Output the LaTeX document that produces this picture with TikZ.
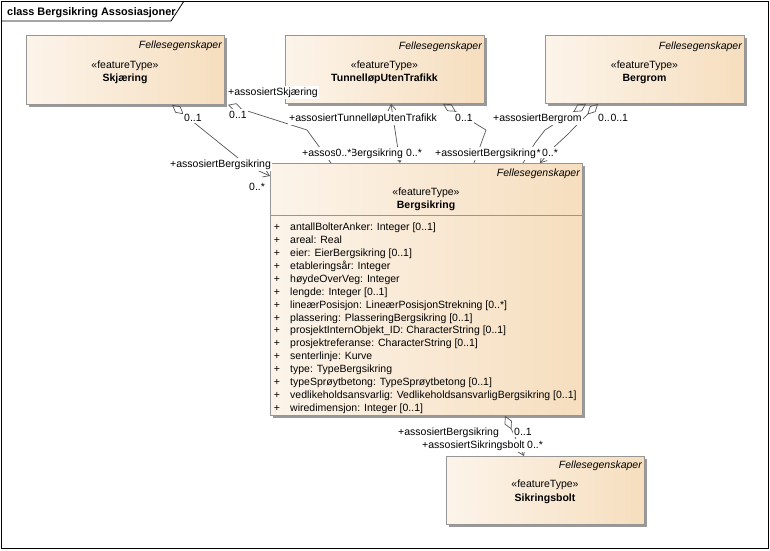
\documentclass[tikz,border=0pt]{standalone}
\usepackage{fontspec}
\setmainfont{Liberation Sans}
\usetikzlibrary{arrows.meta,shadows}
\definecolor{boxL}{RGB}{252,244,234}
\definecolor{boxR}{RGB}{246,222,190}
\definecolor{boxB}{RGB}{150,150,150}
\definecolor{lineC}{RGB}{85,85,85}
\begin{document}
\begin{tikzpicture}[x=1pt,y=-1pt,
  txt/.style={font=\fontsize{10.5}{12}\selectfont, inner sep=0pt},
  ital/.style={font=\fontsize{10.5}{12}\selectfont\itshape, inner sep=0pt, anchor=base east},
  stereo/.style={font=\fontsize{10.5}{12}\selectfont, inner sep=0pt, anchor=base},
  bld/.style={font=\fontsize{10.5}{12}\selectfont\bfseries, inner sep=0pt, anchor=base},
  cls/.style={draw=boxB, line width=0.8pt, left color=boxL, right color=boxR,
    anchor=north west, inner sep=0pt,
    drop shadow={shadow xshift=3pt, shadow yshift=-3pt, fill=black!40, opacity=1}},
  lbl/.style={font=\fontsize{10.5}{12}\selectfont, fill=white, inner xsep=1pt, inner ysep=1.5pt, anchor=base west},
  assoc/.style={draw=lineC, line width=0.7pt},
  dia/.tip={Diamond[open,length=15pt,width=8pt]},
  barb/.tip={Straight Barb[length=6pt,width=8pt]}
]
\useasboundingbox (0,0) rectangle (770,550);
% frame
\draw[black, line width=0.8pt] (1,1) rectangle (768,548);
\draw[black, line width=0.8pt] (1,21) -- (171,21) -- (184,1);
\node[txt, font=\fontsize{10.9}{12}\selectfont\bfseries, anchor=base west] (title) at (7,15) {class Bergsikring Assosiasjoner};

% boxes
\node[cls, minimum width=198pt, minimum height=69pt] (skj) at (26,35) {};
\node[cls, minimum width=199pt, minimum height=68pt] (tun) at (285,35) {};
\node[cls, minimum width=199pt, minimum height=68pt] (berg) at (545,35) {};
\node[cls, minimum width=312pt, minimum height=252pt] (bs) at (270,163) {};
\node[cls, minimum width=198pt, minimum height=68pt] (sik) at (446,456) {};
\draw[boxB, line width=0.8pt] (bs.west |- 0,215) -- (bs.east |- 0,215);

% box texts
\node[ital] (skjF) at (222,48) {Fellesegenskaper};
\node[stereo] (skjS) at (125,68) {«featureType»};
\node[bld] (skjN) at (125,81) {Skjæring};
\node[ital] (tunF) at (482,49) {Fellesegenskaper};
\node[stereo] (tunS) at (384.5,68) {«featureType»};
\node[bld] (tunN) at (384.5,81) {TunnelløpUtenTrafikk};
\node[ital] (bergF) at (742,49) {Fellesegenskaper};
\node[stereo] (bergS) at (644.5,68) {«featureType»};
\node[bld] (bergN) at (644.5,81) {Bergrom};
\node[ital] (bsF) at (580,176) {Fellesegenskaper};
\node[stereo] (bsS) at (426,195) {«featureType»};
\node[bld] (bsN) at (426,208) {Bergsikring};
\node[ital] (sikF) at (642,468) {Fellesegenskaper};
\node[stereo] (sikS) at (545,487) {«featureType»};
\node[bld] (sikN) at (545,501) {Sikringsbolt};

% attributes
\foreach \t [count=\i] in {
  {antallBolterAnker: Integer [0..1]},
  {areal: Real},
  {eier: EierBergsikring [0..1]},
  {etableringsår: Integer},
  {høydeOverVeg: Integer},
  {lengde: Integer [0..1]},
  {lineærPosisjon: LineærPosisjonStrekning [0..*]},
  {plassering: PlasseringBergsikring [0..1]},
  {prosjektInternObjekt\_ID: CharacterString [0..1]},
  {prosjektreferanse: CharacterString [0..1]},
  {senterlinje: Kurve},
  {type: TypeBergsikring},
  {typeSprøytbetong: TypeSprøytbetong [0..1]},
  {vedlikeholdsansvarlig: VedlikeholdsansvarligBergsikring [0..1]},
  {wiredimensjon: Integer [0..1]}} {
  \pgfmathsetmacro{\yy}{230.5+(\i-1)*12.93}
  \node[txt, anchor=base] (p\i) at (277,\yy) {+};
  \node[txt, anchor=base west] (a\i) at (290,\yy) {\t};
}

% connectors
\draw[assoc, dia-barb] ([xshift=146pt]skj.south west) -- (248,166) -- (bs.west |- 0,176);
\draw[assoc, dia-] ([xshift=202pt]skj.south west) -- (307,130) -- ([xshift=61pt]bs.north west);
\draw[assoc, barb-barb] ([xshift=106pt]tun.south west) -- ([xshift=130pt]bs.north west);
\draw[assoc, dia-] ([xshift=158pt]tun.south west) -- (486,130) -- ([xshift=204pt]bs.north west);
\draw[assoc, dia-] ([xshift=41pt]berg.south west) -- (545,130) -- (535,143) -- ([xshift=253pt]bs.north west);
\draw[assoc, dia-barb] ([xshift=53pt]berg.south west) -- (567,135) -- (553,148) -- ([xshift=270pt]bs.north west);
\draw[assoc, dia-barb] ([xshift=235pt]bs.south west) -- ([xshift=78pt]sik.north west);

% labels
\node[lbl] (l1) at (227,95) {+assosiertSkjæring};
\node[lbl] (l2) at (183,121) {0..1};
\node[lbl] (l3) at (228,118) {0..1};
\node[lbl] (l4) at (169,167) {+assosiertBergsikring};
\node[lbl] (l5) at (248,190) {0..*};
\node[lbl] (l6) at (288,121) {+assosiertTunnelløpUtenTrafikk};
\node[lbl] (l7) at (454,121) {0..1};
\node[lbl] (l8) at (301,156) {+assosiertBergsikring};
\node[lbl] (l9) at (334.5,156) {0..*};
\node[lbl] (l10) at (405,156) {0..*};
\node[lbl, anchor=base east] (l11a) at (542,156) {0..*};
\node[lbl] (l11) at (434,156) {+assosiertBergsikring};
\node[lbl] (l11b) at (541,156) {0..*};
\node[lbl] (l12) at (492,121) {+assosiertBergrom};
\node[lbl] (l13a) at (597,121) {0..1};
\node[lbl, inner xsep=0.3pt] (l13b) at (610,121) {0..1};
\node[lbl] (l14) at (397,435) {+assosiertBergsikring};
\node[lbl] (l15) at (513,435) {0..1};
\node[lbl] (l16) at (421,448) {+assosiertSikringsbolt};
\node[lbl] (l17) at (526,448) {0..*};
\end{tikzpicture}
\end{document}
